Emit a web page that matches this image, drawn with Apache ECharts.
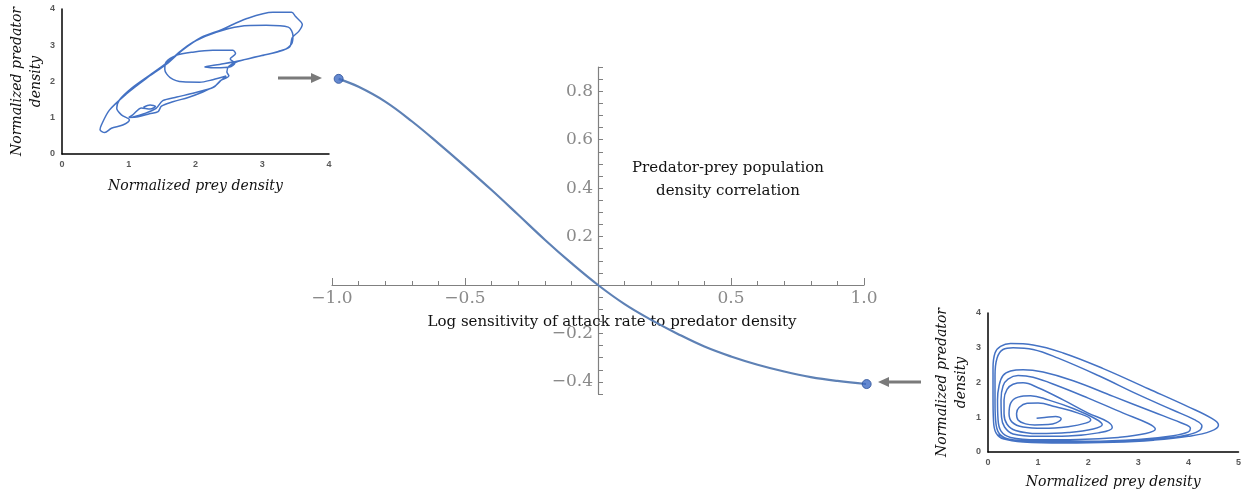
<!DOCTYPE html>
<html>
<head>
<meta charset="utf-8">
<script src="https://cdn.jsdelivr.net/npm/echarts@6/dist/echarts.min.js"></script>
<style>
  html, body { margin: 0; padding: 0; background: #fff; }
  #chart { width: 1244px; height: 493px; }
</style>
</head>
<body>
<div id="chart"></div>
<script>
// main curve: correlation vs log sensitivity
var sensitivity = [-0.975, -0.9, -0.8, -0.7, -0.6, -0.5, -0.4, -0.3, -0.2, -0.1, 0, 0.1, 0.2, 0.3, 0.4, 0.5, 0.6, 0.7, 0.8, 0.9, 1.01];
var correlation = [0.851, 0.818, 0.757, 0.676, 0.585, 0.49, 0.392, 0.29, 0.187, 0.09, 0, -0.079, -0.144, -0.202, -0.254, -0.295, -0.329, -0.357, -0.38, -0.396, -0.409];
var endX = [-0.975, 1.01];
var endY = [0.851, -0.409];

// left inset trajectory (sensitivity = -1)
var leftPrey = [1.22, 1.32, 1.40, 1.32, 1.19, 1.06, 1.00, 1.14, 1.31, 1.44, 1.49, 1.66, 1.89, 2.11, 2.29, 2.39, 2.46,
  2.26, 2.06, 1.81, 1.62, 1.54, 1.56, 1.71, 1.96, 2.26, 2.56, 2.60, 2.52, 2.59, 2.51, 2.31, 2.14,
  2.36, 2.66, 3.01, 3.31, 3.44, 3.46, 3.39, 3.06, 2.66, 2.31, 2.01, 1.79, 1.59, 1.31, 1.04, 0.86, 0.82, 0.89,
  1.01, 0.91, 0.74, 0.64, 0.57, 0.59, 0.71, 0.96, 1.26, 1.56, 1.80, 2.09, 2.39, 2.76, 3.16, 3.44, 3.50, 3.60, 3.55, 3.45, 3.41,
  3.24, 2.91, 2.64, 2.50, 2.47, 2.50, 2.37, 2.27, 1.99, 1.72, 1.51, 1.41, 1.24, 1.04];
var leftPred = [1.29, 1.35, 1.31, 1.24, 1.27, 1.08, 1.01, 1.03, 1.11, 1.17, 1.32, 1.44, 1.56, 1.71, 1.87, 2.04, 2.15,
  2.05, 1.98, 1.99, 2.11, 2.33, 2.54, 2.72, 2.81, 2.86, 2.86, 2.77, 2.62, 2.51, 2.40, 2.38, 2.40,
  2.47, 2.57, 2.72, 2.86, 3.04, 3.27, 3.50, 3.55, 3.52, 3.36, 3.13, 2.86, 2.54, 2.17, 1.81, 1.49, 1.26, 1.08,
  0.94, 0.80, 0.71, 0.59, 0.67, 0.80, 1.21, 1.65, 2.08, 2.47, 2.86, 3.22, 3.43, 3.73, 3.91, 3.91, 3.79, 3.57, 3.39, 3.21, 2.95,
  2.83, 2.68, 2.56, 2.42, 2.26, 2.16, 2.02, 1.84, 1.69, 1.57, 1.47, 1.26, 1.12, 1.01];

// right inset trajectory (sensitivity = 1), spiralling in to (1, 1)
var rightPrey = [0.2, 0.3, 0.7, 1.5, 2.5, 3.3, 4.0, 4.45, 4.6, 4.45, 4.0, 3.2, 2.3, 1.5, 0.9, 0.45,
  0.25, 0.14, 0.10, 0.10, 0.11, 0.16, 0.32, 0.8, 1.6, 2.6, 3.4, 3.95, 4.2, 4.27, 4.12, 3.7, 3.0, 2.2, 1.4, 0.9, 0.5,
  0.3, 0.18, 0.14, 0.14, 0.16, 0.24, 0.45, 1.0, 2.0, 3.0, 3.7, 4.0, 4.04, 3.85, 3.3, 2.5, 1.7, 1.1, 0.7,
  0.45, 0.3, 0.22, 0.19, 0.2, 0.26, 0.45, 1.0, 1.8, 2.6, 3.15, 3.34, 3.2, 2.7, 2.0, 1.4, 0.9, 0.6,
  0.4, 0.3, 0.26, 0.27, 0.33, 0.5, 1.0, 1.6, 2.2, 2.48, 2.4, 2.0, 1.5, 1.0, 0.7,
  0.5, 0.38, 0.32, 0.32, 0.38, 0.55, 1.0, 1.6, 2.1, 2.28, 2.15, 1.7, 1.2, 0.85,
  0.6, 0.45, 0.42, 0.48, 0.7, 1.1, 1.6, 1.95, 2.05, 1.8, 1.35, 1.0, 0.78,
  0.62, 0.57, 0.6, 0.75, 0.93, 1.2, 1.36, 1.46, 1.35, 1.13, 0.97];
var rightPred = [0.5, 0.38, 0.29, 0.26, 0.28, 0.34, 0.45, 0.6, 0.78, 0.98, 1.3, 1.82, 2.4, 2.85, 3.08, 3.12,
  3.04, 2.85, 2.4, 1.6, 0.9, 0.55, 0.37, 0.3, 0.28, 0.3, 0.37, 0.48, 0.6, 0.75, 0.93, 1.2, 1.65, 2.2, 2.7, 2.95, 3.0,
  2.95, 2.7, 2.2, 1.4, 0.8, 0.5, 0.36, 0.31, 0.31, 0.36, 0.47, 0.58, 0.68, 0.84, 1.15, 1.6, 2.05, 2.3, 2.37,
  2.33, 2.2, 1.9, 1.5, 0.95, 0.6, 0.42, 0.35, 0.36, 0.42, 0.53, 0.66, 0.82, 1.12, 1.55, 1.9, 2.15, 2.2,
  2.1, 1.9, 1.5, 1.0, 0.72, 0.52, 0.45, 0.46, 0.55, 0.7, 0.86, 1.12, 1.5, 1.85, 1.99,
  1.95, 1.8, 1.5, 1.1, 0.8, 0.62, 0.53, 0.56, 0.66, 0.79, 0.95, 1.25, 1.5, 1.62,
  1.58, 1.4, 1.1, 0.86, 0.72, 0.68, 0.73, 0.83, 0.93, 1.12, 1.3, 1.41, 1.4,
  1.28, 1.11, 0.92, 0.81, 0.78, 0.79, 0.84, 0.96, 1.02, 0.99, 0.97];

function pairs(xs, ys) {
    return xs.map(function (x, i) { return [x, ys[i]]; });
}

var serifFont = 'DejaVu Serif';
var gray = '#8a8a8a';
var insetName = { fontFamily: serifFont, fontStyle: 'italic', fontSize: 14, color: '#111', lineHeight: 19 };
var insetLine = { show: true, onZero: false, lineStyle: { color: '#000', width: 1.5 } };

function insetLabel(m) {
    return { margin: m, fontFamily: 'Liberation Sans', fontWeight: 'bold', fontSize: 9, color: '#595959' };
}

function isStep(v, step) {
    var q = v / step;
    return Math.abs(q - Math.round(q)) < 1e-6 && Math.abs(v) > 1e-9;
}

var chart = echarts.init(document.getElementById('chart'));
chart.setOption({
    animation: false,
    grid: [
        { left: 332, right: 380, top: 67, bottom: 99 },
        { left: 62, width: 267, top: 9, height: 145 },
        { left: 988, right: 4, top: 313, bottom: 41 }
    ],
    xAxis: [{
        gridIndex: 0,
        type: 'value',
        min: -1,
        max: 1,
        interval: 0.5,
        // move the axis up to y = 0
        offset: -109,
        name: 'Log sensitivity of attack rate to predator density',
        nameLocation: 'middle',
        nameGap: 30,
        nameTextStyle: { fontFamily: serifFont, fontSize: 15, color: '#111', padding: [0, 0, 0, 28] },
        axisLine: { onZero: false, lineStyle: { color: '#808080', width: 1.2 } },
        axisTick: { inside: true, length: 7, lineStyle: { color: '#808080' } },
        minorTick: { show: true, splitNumber: 5, length: 4, lineStyle: { color: '#808080' } },
        splitLine: { show: false },
        axisLabel: {
            margin: 5,
            fontFamily: serifFont,
            fontSize: 17,
            color: gray,
            formatter: function (v) { return isStep(v, 0.5) ? v.toFixed(1).replace('-', '\u2212') : ''; }
        }
    }, {
        gridIndex: 1,
        type: 'value',
        min: 0, max: 4, interval: 1,
        name: 'Normalized prey density',
        nameLocation: 'middle',
        nameGap: 23,
        nameTextStyle: insetName,
        axisLine: insetLine,
        axisTick: { show: false },
        splitLine: { show: false },
        axisLabel: insetLabel(6)
    }, {
        gridIndex: 2,
        type: 'value',
        min: 0, max: 5, interval: 1,
        name: 'Normalized prey density',
        nameLocation: 'middle',
        nameGap: 21,
        nameTextStyle: insetName,
        axisLine: insetLine,
        axisTick: { show: false },
        splitLine: { show: false },
        axisLabel: insetLabel(6)
    }],
    yAxis: [{
        gridIndex: 0,
        type: 'value',
        min: -0.45,
        max: 0.9,
        interval: 0.05,
        // move the axis right to x = 0
        offset: -266,
        axisLine: { onZero: false, lineStyle: { color: '#808080', width: 1.2 } },
        axisTick: { inside: true, length: 5, lineStyle: { color: '#808080' } },
        splitLine: { show: false },
        axisLabel: {
            margin: 5,
            fontFamily: serifFont,
            fontSize: 17,
            color: gray,
            formatter: function (v) { return isStep(v, 0.2) ? v.toFixed(1).replace('-', '\u2212') : ''; }
        }
    }, {
        gridIndex: 1,
        type: 'value',
        min: 0, max: 4, interval: 1,
        name: 'Normalized predator\ndensity',
        nameLocation: 'middle',
        nameGap: 16,
        nameTextStyle: insetName,
        axisLine: insetLine,
        axisTick: { show: false },
        splitLine: { show: false },
        axisLabel: insetLabel(7)
    }, {
        gridIndex: 2,
        type: 'value',
        min: 0, max: 4, interval: 1,
        name: 'Normalized predator\ndensity',
        nameLocation: 'middle',
        nameGap: 17,
        nameTextStyle: insetName,
        axisLine: insetLine,
        axisTick: { show: false },
        splitLine: { show: false },
        axisLabel: insetLabel(7)
    }],
    series: [{
        type: 'line',
        xAxisIndex: 0, yAxisIndex: 0,
        data: pairs(sensitivity, correlation),
        smooth: 0.4,
        showSymbol: false,
        clip: false,
        lineStyle: { color: '#5e81b5', width: 2.2 }
    }, {
        type: 'scatter',
        xAxisIndex: 0, yAxisIndex: 0,
        data: pairs(endX, endY),
        symbolSize: 9,
        clip: false,
        itemStyle: { color: '#3e6cc4', borderColor: '#2b4f96', borderWidth: 1 },
        z: 5
    }, {
        type: 'line',
        xAxisIndex: 1, yAxisIndex: 1,
        data: pairs(leftPrey, leftPred),
        smooth: 0.3,
        showSymbol: false,
        lineStyle: { color: '#4472c4', width: 1.5 }
    }, {
        type: 'line',
        xAxisIndex: 2, yAxisIndex: 2,
        data: pairs(rightPrey, rightPred),
        smooth: 0.4,
        showSymbol: false,
        lineStyle: { color: '#4472c4', width: 1.5 }
    }],
    graphic: [
        // label beside the vertical axis
        {
            type: 'text',
            x: 728, y: 157,
            style: {
                text: 'Predator-prey population\ndensity correlation',
                textAlign: 'center',
                font: '15px "DejaVu Serif"',
                lineHeight: 23,
                fill: '#111'
            }
        },
        // arrows pointing from the insets to the end points
        { type: 'line', shape: { x1: 278, y1: 78, x2: 312, y2: 78 }, style: { stroke: '#7a7a7a', lineWidth: 3 } },
        { type: 'polygon', shape: { points: [[311, 73], [322, 78], [311, 83]] }, style: { fill: '#7a7a7a' } },
        { type: 'line', shape: { x1: 921, y1: 382, x2: 888, y2: 382 }, style: { stroke: '#7a7a7a', lineWidth: 3 } },
        { type: 'polygon', shape: { points: [[889, 377], [878, 382], [889, 387]] }, style: { fill: '#7a7a7a' } }
    ]
});
</script>
</body>
</html>
